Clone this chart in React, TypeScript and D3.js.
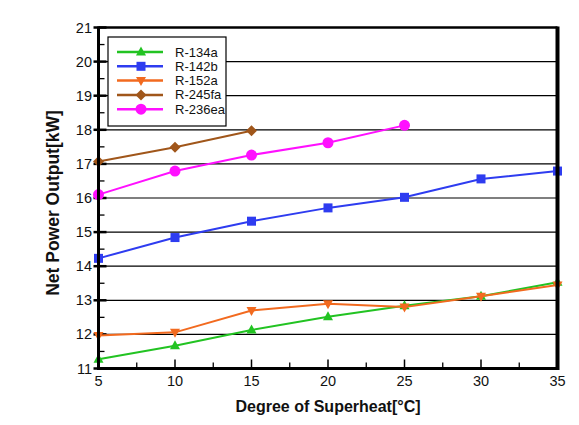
import React from "react";
import * as d3 from "d3";

const xValues = [5, 10, 15, 20, 25, 30, 35];
const r134a = [11.27, 11.67, 12.13, 12.52, 12.84, 13.12, 13.53];
const r142b = [14.23, 14.84, 15.32, 15.71, 16.02, 16.56, 16.79];
const r152a = [11.97, 12.06, 12.7, 12.9, 12.8, 13.12, 13.45];
const r245fa = [17.07, 17.49, 17.97];
const r236ea = [16.1, 16.79, 17.26, 17.62, 18.13];

const xTicks = [5, 10, 15, 20, 25, 30, 35];
const yTicks = [11, 12, 13, 14, 15, 16, 17, 18, 19, 20, 21];

const series = [
  { name: "R-134a", values: r134a, color: "#22c322", marker: "triUp" },
  { name: "R-142b", values: r142b, color: "#2e3cf0", marker: "square" },
  { name: "R-152a", values: r152a, color: "#f26a1f", marker: "triDown" },
  { name: "R-245fa", values: r245fa, color: "#a0561a", marker: "diamond" },
  { name: "R-236ea", values: r236ea, color: "#ff10ff", marker: "circle" },
];

const W = 579;
const H = 425;
const L = 98.5, R = 557.5, T = 27.5, B = 368.5;
const FONT = "'Liberation Sans', Arial, sans-serif";

function Marker({ type, x, y, color }: { type: string; x: number; y: number; color: string }) {
  if (type === "circle") return <circle cx={x} cy={y} r={5.5} fill={color} />;
  if (type === "square") return <rect x={x - 4.5} y={y - 4.5} width={9} height={9} fill={color} />;
  if (type === "diamond")
    return <path d={`M${x},${y - 5.5}L${x + 5.5},${y}L${x},${y + 5.5}L${x - 5.5},${y}Z`} fill={color} />;
  if (type === "triUp")
    return <path d={`M${x},${y - 5.5}L${x + 5},${y + 3.5}L${x - 5},${y + 3.5}Z`} fill={color} />;
  return <path d={`M${x},${y + 5.5}L${x + 5},${y - 3.5}L${x - 5},${y - 3.5}Z`} fill={color} />;
}

export default function App() {
  const x = d3.scaleLinear().domain([5, 35]).range([L, R]);
  const y = d3.scaleLinear().domain([11, 21]).range([B, T]);
  const minorY = d3.range(11.5, 21, 1);
  const minorX = d3.range(7.5, 35, 5);

  return (
    <svg width={W} height={H} style={{ position: "absolute", left: 0, top: 0, background: "#fff" }} fontFamily={FONT}>
      {/* gridlines */}
      {yTicks.slice(1, -1).map((t) => (
        <line key={"g" + t} x1={L} x2={R} y1={y(t)} y2={y(t)} stroke="#000" strokeWidth={1.2} />
      ))}
      {/* y ticks */}
      {yTicks.map((t) => (
        <line key={"yt" + t} x1={L - 5} x2={L + 8} y1={y(t)} y2={y(t)} stroke="#000" strokeWidth={2.5} />
      ))}
      {minorY.map((t) => (
        <line key={"ym" + t} x1={L} x2={L + 6} y1={y(t)} y2={y(t)} stroke="#000" strokeWidth={1.3} />
      ))}
      {/* x ticks */}
      {xTicks.map((t) => (
        <line key={"xt" + t} x1={x(t)} x2={x(t)} y1={B} y2={B - 9} stroke="#000" strokeWidth={1.5} />
      ))}
      {minorX.map((t) => (
        <line key={"xm" + t} x1={x(t)} x2={x(t)} y1={B} y2={B - 6} stroke="#000" strokeWidth={1.3} />
      ))}
      {/* legend */}
      <rect x={108} y={37} width={118} height={89} fill="#fff" stroke="#000" strokeWidth={1.2} />
      {series.map((s, i) => {
        const ly = 52 + i * 14.3;
        return (
          <g key={"lg" + s.name}>
            <line x1={117} x2={163} y1={ly} y2={ly} stroke={s.color} strokeWidth={2.5} />
            <Marker type={s.marker} x={141} y={ly} color={s.color} />
            <text x={175} y={ly + 4.5} fontSize={13} fill="#111">
              {s.name}
            </text>
          </g>
        );
      })}
      {/* series */}
      {series.map((s) => {
        const pts = s.values.map((v, i) => [x(xValues[i]), y(v)] as [number, number]);
        const line = d3.line();
        return (
          <g key={s.name}>
            <path d={line(pts) || ""} fill="none" stroke={s.color} strokeWidth={2} />
            {pts.map((p, i) => (
              <Marker key={i} type={s.marker} x={p[0]} y={p[1]} color={s.color} />
            ))}
          </g>
        );
      })}
      {/* frame */}
      <line x1={L} x2={R} y1={T} y2={T} stroke="#000" strokeWidth={2.5} />
      <line x1={L} x2={R} y1={B} y2={B} stroke="#000" strokeWidth={3} />
      <line x1={L} x2={L} y1={T - 1} y2={B + 1.5} stroke="#000" strokeWidth={3} />
      <line x1={R} x2={R} y1={T - 1} y2={B + 1.5} stroke="#000" strokeWidth={4} />
      {/* tick labels */}
      {yTicks.map((t) => (
        <text key={"yl" + t} x={92} y={y(t) + 5} fontSize={14.5} textAnchor="end" fill="#111">
          {t}
        </text>
      ))}
      {xTicks.map((t) => (
        <text key={"xl" + t} x={x(t)} y={386} fontSize={14.5} textAnchor="middle" fill="#111">
          {t}
        </text>
      ))}
      <text x={328} y={412} fontSize={16} fontWeight="bold" textAnchor="middle" fill="#111">
        Degree of Superheat[°C]
      </text>
      <text
        transform={`translate(59,203) rotate(-90)`}
        fontSize={17.5}
        fontWeight="bold"
        textAnchor="middle"
        fill="#111"
      >
        Net Power Output[kW]
      </text>
    </svg>
  );
}
